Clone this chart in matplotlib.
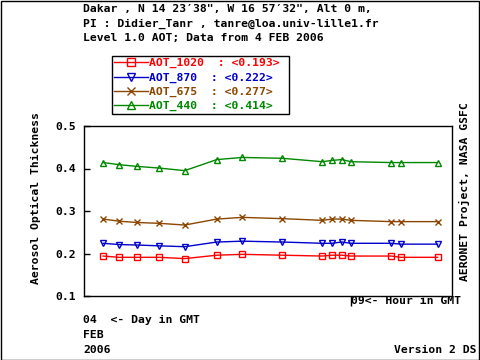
import matplotlib
matplotlib.use("Agg")
import matplotlib.pyplot as plt
from matplotlib.patches import Rectangle

# ---- data ----
hours = [7.45, 7.55, 7.66, 7.80, 7.96, 8.16, 8.32, 8.57, 8.82, 8.88, 8.94, 9.00, 9.25, 9.31, 9.54]
aot_1020 = [0.194, 0.191, 0.191, 0.191, 0.188, 0.196, 0.198, 0.196, 0.194, 0.196, 0.196, 0.194, 0.194, 0.191, 0.191]
aot_870 = [0.224, 0.221, 0.220, 0.218, 0.216, 0.227, 0.229, 0.227, 0.224, 0.224, 0.227, 0.224, 0.224, 0.222, 0.222]
aot_675 = [0.281, 0.276, 0.273, 0.271, 0.267, 0.281, 0.285, 0.282, 0.278, 0.281, 0.281, 0.278, 0.275, 0.275, 0.275]
aot_440 = [0.414, 0.409, 0.405, 0.401, 0.395, 0.421, 0.426, 0.424, 0.416, 0.419, 0.421, 0.416, 0.414, 0.414, 0.414]
series_names = ["AOT_1020", "AOT_870", "AOT_675", "AOT_440"]
series_means = ["0.193", "0.222", "0.277", "0.414"]
yticks = [0.1, 0.2, 0.3, 0.4, 0.5]
ytick_labels = ["0.1", "0.2", "0.3", "0.4", "0.5"]
title_lines = ['Dakar , N 14 23\u203238", W 16 57\u203232", Alt 0 m,',
               'PI : Didier_Tanr , tanre@loa.univ-lille1.fr',
               'Level 1.0 AOT; Data from 4 FEB 2006']

FONT = "DejaVu Sans Mono"
FS = 8.2
plt.rcParams['font.family'] = [FONT, 'DejaVu Sans']
plt.rcParams['font.weight'] = 'bold'

fig = plt.figure(figsize=(4.8, 3.6), dpi=100)
W, H = 480.0, 360.0
ax = fig.add_axes([84 / W, 1 - 296 / H, (452 - 84) / W, (296 - 126) / H])

colors = ["#ff0000", "#0000cc", "#8c4600", "#008800"]
markers = ["s", "v", "x", "^"]
data = [aot_1020, aot_870, aot_675, aot_440]
handles = []
for name, mean, vals, c, m in zip(series_names, series_means, data, colors, markers):
    label = f"{name}  : <{mean}> "
    h, = ax.plot(hours, vals, color=c, marker=m, markersize=4.5, markerfacecolor='none',
                 markeredgecolor=c, markeredgewidth=1.0, linewidth=1.0, label=label)
    handles.append(h)

ax.set_xlim(7.33, 9.63)
ax.set_ylim(0.1, 0.5)
ax.set_yticks(yticks)
ax.set_yticklabels(ytick_labels, fontsize=FS, fontweight='bold', family=FONT)
ax.tick_params(axis='y', direction='in', length=4, width=1, pad=6, right=False)
ax.set_xticks([9.0])
ax.set_xticklabels([""])
ax.tick_params(axis='x', direction='out', length=7.5, width=1, bottom=True)
for s in ax.spines.values():
    s.set_linewidth(1.0)

ax.text(9.0, -0.03, "09<- Hour in GMT", transform=ax.get_xaxis_transform(),
        ha='left', va='center', fontsize=FS, fontweight='bold', family=FONT)

leg = fig.legend(handles=handles, loc='upper left',
                 bbox_to_anchor=(112 / W, 1 - 56 / H), bbox_transform=fig.transFigure,
                 prop={'family': FONT, 'size': FS, 'weight': 'bold'},
                 handlelength=3.0, handletextpad=0.05, labelspacing=0.36,
                 borderpad=0.2, borderaxespad=0, fancybox=False, framealpha=1,
                 edgecolor='black', labelcolor='linecolor', markerscale=1.3)
leg.get_frame().set_linewidth(1.0)

# titles
for i, line in enumerate(title_lines):
    fig.text(83 / W, 1 - (9 + 14.5 * i) / H, line, ha='left', va='center',
             fontsize=FS, fontweight='bold', family=FONT)

fig.text(36 / W, 1 - 198 / H, "Aerosol Optical Thickness", rotation=90,
         ha='center', va='center', fontsize=FS, fontweight='bold', family=FONT)
fig.text(464 / W, 1 - 192 / H, "AERONET Project, NASA GSFC", rotation=90,
         ha='center', va='center', fontsize=FS, fontweight='bold', family=FONT)

fig.text(83 / W, 1 - 320 / H, "04  <- Day in GMT", ha='left', va='center',
         fontsize=FS, fontweight='bold', family=FONT)
fig.text(83 / W, 1 - 335 / H, "FEB", ha='left', va='center',
         fontsize=FS, fontweight='bold', family=FONT)
fig.text(83 / W, 1 - 350 / H, "2006", ha='left', va='center',
         fontsize=FS, fontweight='bold', family=FONT)
fig.text(477 / W, 1 - 350 / H, "Version 2 DS", ha='right', va='center',
         fontsize=FS, fontweight='bold', family=FONT)

# outer border
fig.patches.append(Rectangle((0.5 / W, 0.5 / H), 1 - 1.5 / W, 1 - 1.5 / H,
                             transform=fig.transFigure, fill=False,
                             edgecolor='black', linewidth=1.0))

fig.savefig("out.png", dpi=100)
